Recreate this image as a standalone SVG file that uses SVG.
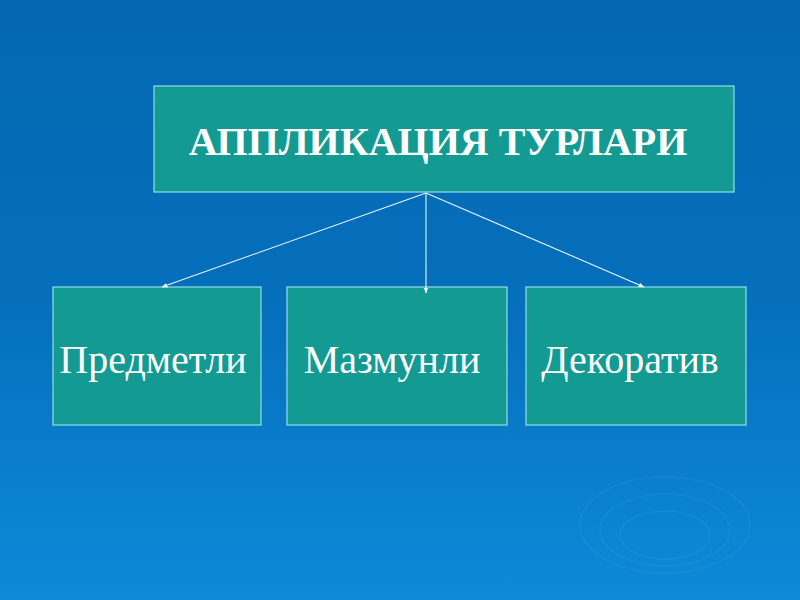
<svg xmlns="http://www.w3.org/2000/svg" width="800" height="600" viewBox="0 0 800 600">
<style>
.box{fill:#129a93;stroke:#8fe0e6;stroke-width:1.2}
.t{fill:#ffffff;font-family:"Liberation Serif","DejaVu Serif",serif}
.conn{stroke:#e6f6fb;stroke-width:1.1;fill:none}
.rip{fill:none;stroke:#4aaee8;stroke-opacity:0.18;stroke-width:1.5}
</style>
<defs>
<linearGradient id="bg" x1="0" y1="0" x2="0" y2="1">
<stop offset="0" stop-color="#0368b0"/>
<stop offset="0.5" stop-color="#056fbc"/>
<stop offset="1" stop-color="#0d8ad8"/>
</linearGradient>
<marker id="ah" viewBox="0 0 10 10" refX="9" refY="5" markerWidth="6" markerHeight="6" orient="auto" markerUnits="userSpaceOnUse">
<path d="M0,1 L10,5 L0,9 z" fill="#e6f6fb"/>
</marker>
</defs>
<rect width="800" height="600" fill="url(#bg)"/>
<g id="ripples">
<ellipse class="rip" cx="665" cy="525" rx="85" ry="48"/>
<ellipse class="rip" cx="665" cy="530" rx="65" ry="36"/>
<ellipse class="rip" cx="665" cy="535" rx="45" ry="24"/>
</g>
<g id="title">
<rect class="box" x="154" y="86" width="580" height="106"/>
<text class="t" x="438" y="155" font-size="40" font-weight="bold" text-anchor="middle">АППЛИКАЦИЯ ТУРЛАРИ</text>
</g>
<g id="predmetli">
<rect class="box" x="53" y="287" width="208" height="138"/>
<text class="t" x="153" y="373" font-size="40" text-anchor="middle">Предметли</text>
</g>
<g id="mazmunli">
<rect class="box" x="287" y="287" width="220" height="138"/>
<text class="t" x="392" y="373" font-size="40" text-anchor="middle">Мазмунли</text>
</g>
<g id="dekorativ">
<rect class="box" x="526" y="287" width="220" height="138"/>
<text class="t" x="630" y="373" font-size="40" text-anchor="middle">Декоратив</text>
</g>
<g id="connectors">
<line class="conn" x1="426" y1="193" x2="162" y2="287" marker-end="url(#ah)"/>
<line class="conn" x1="426" y1="193" x2="426" y2="293" marker-end="url(#ah)"/>
<line class="conn" x1="426" y1="193" x2="644" y2="287" marker-end="url(#ah)"/>
</g>
</svg>
